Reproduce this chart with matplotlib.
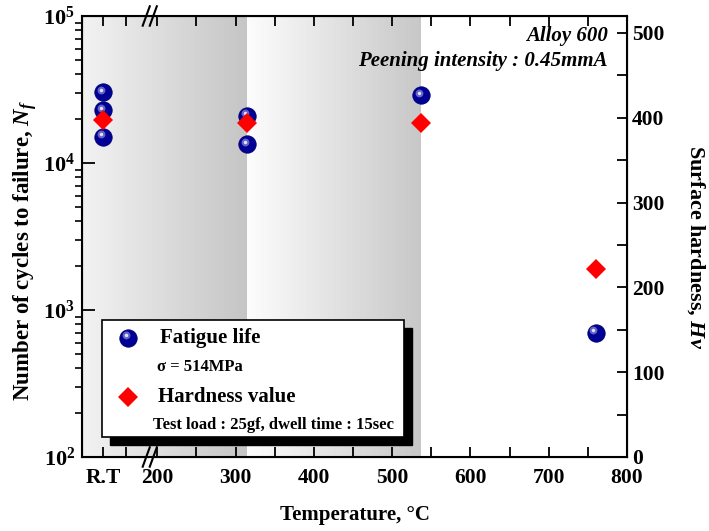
import numpy as np
import matplotlib
matplotlib.use("Agg")
import matplotlib.pyplot as plt
import matplotlib.transforms as mtrans
from matplotlib.patches import Rectangle
from matplotlib.ticker import LogLocator, NullFormatter, MultipleLocator

plt.rcParams['font.family'] = ['Liberation Serif', 'DejaVu Serif']
plt.rcParams['font.weight'] = 'bold'
plt.rcParams['axes.labelweight'] = 'bold'
plt.rcParams['mathtext.fontset'] = 'custom'
plt.rcParams['mathtext.rm'] = 'Liberation Serif:bold'
plt.rcParams['mathtext.it'] = 'Liberation Serif:italic:bold'
plt.rcParams['mathtext.bf'] = 'Liberation Serif:bold'

# data (R.T plotted at x = 131 on the broken axis)
RT_X = 131
fat_temp = [RT_X, RT_X, RT_X, 315, 315, 537, 760]
fat_life = [30300, 22900, 15100, 20900, 13400, 29000, 700]
hard_temp = [RT_X, 315, 537, 760]
hard_val = [397, 394, 394, 222]

xticks = [RT_X, 160, 200, 250, 300, 350, 400, 450, 500, 550, 600, 650, 700, 750, 800]
xticklabels = ['R.T', '', '200', '', '300', '', '400', '', '500', '', '600', '', '700', '', '800']
shade_regions = [(104, 315, 0.95, 0.77), (315, 537, 0.99, 0.78)]

fig = plt.figure(figsize=(7.09, 5.31), dpi=100)
ax = fig.add_axes([0.1157, 0.1394, 0.7687, 0.8305])
ax.set_yscale('log')
ax.set_xlim(104, 800)
ax.set_ylim(1e2, 1e5)

# grey gradient shading
for x0, x1, g0, g1 in shade_regions:
    n = 80
    edges = np.linspace(x0, x1, n + 1)
    for k in range(n):
        g = g0 + (g1 - g0) * (k + 0.5) / n
        ax.axvspan(edges[k], edges[k + 1], color=(g, g, g), lw=0, zorder=0, antialiased=False)


def sphere(axis, xs, ys, trans, size=12.5, z=5):
    axis.plot(xs, ys, 'o', ms=size, color='#000096', mec='#00006e', mew=0.6, zorder=z,
              ls='none', transform=trans)
    hl = mtrans.offset_copy(trans, fig=fig, x=-2.5, y=2.5, units='dots')
    axis.plot(xs, ys, 'o', ms=size * 0.45, color='#7070c8', mew=0, zorder=z + 0.1,
              transform=hl, alpha=0.9, ls='none')
    axis.plot(xs, ys, 'o', ms=size * 0.2, color='#e0e0ff', mew=0, zorder=z + 0.2,
              transform=hl, ls='none')


sphere(ax, fat_temp, fat_life, ax.transData)

ax.set_xticks(xticks)
ax.set_xticklabels(xticklabels, fontsize=15.5)
ax.yaxis.set_minor_locator(LogLocator(base=10, subs=np.arange(2, 10), numticks=20))
ax.yaxis.set_minor_formatter(NullFormatter())
ax.set_yticks([1e2, 1e3, 1e4, 1e5])
ax.set_yticklabels([r'$\mathbf{10^{%d}}$' % k for k in [2, 3, 4, 5]], fontsize=16)
ax.tick_params(axis='both', direction='in', width=1.3)
ax.tick_params(axis='x', which='major', length=7, top=True, pad=8)
ax.tick_params(axis='y', which='major', length=9, pad=5)
ax.tick_params(axis='y', which='minor', length=5, width=1.2)
for s in ax.spines.values():
    s.set_linewidth(1.5)

ax.set_xlabel('Temperature, °C', fontsize=15, labelpad=12)
ax.set_ylabel('Number of cycles to failure, $N_f$', fontsize=16.5)
ax.yaxis.set_label_coords(-0.1046, 0.469)
ax.yaxis.label.set_verticalalignment('center')

ax2 = ax.twinx()
ax2.set_ylim(0, 520)
ax2.yaxis.set_minor_locator(MultipleLocator(50))
ax2.set_yticks([0, 100, 200, 300, 400, 500])
ax2.tick_params(axis='y', which='both', direction='in', width=1.3, labelsize=15.5, length=7)
ax2.plot(hard_temp, hard_val, 'D', ms=10.5, color='#ff0000', mew=0, zorder=8)
ax2.set_ylabel('Surface hardness, $Hv$', fontsize=16, rotation=270)
ax2.yaxis.set_label_coords(1.126, 0.476)
ax2.yaxis.label.set_verticalalignment('center')

# axis break marks
bt = mtrans.blended_transform_factory(ax.transData, ax.transAxes)
for yb in (0.0, 1.0):
    for xb in (186, 195):
        ax.plot([xb - 4.5, xb + 4.5], [yb - 0.022, yb + 0.022], color='black', lw=1.5,
                transform=bt, clip_on=False, zorder=10)

ax.text(0.965, 0.955, 'Alloy 600', transform=ax.transAxes, ha='right', va='center',
        fontsize=15, style='italic')
ax.text(0.965, 0.898, 'Peening intensity : 0.45mmA', transform=ax.transAxes, ha='right',
        va='center', fontsize=15, style='italic')

# legend box with shadow
lx0, ly0, lw_, lh_ = 0.036, 0.046, 0.555, 0.265
ax.add_patch(Rectangle((lx0 + 0.0147, ly0 - 0.018), lw_, lh_, transform=ax.transAxes,
                       facecolor='black', edgecolor='black', zorder=11))
ax.add_patch(Rectangle((lx0, ly0), lw_, lh_, transform=ax.transAxes,
                       facecolor='white', edgecolor='black', lw=1.2, zorder=12))
sphere(ax, [0.0844], [0.27], ax.transAxes, z=13)
ax.plot([0.085], [0.1367], 'D', ms=10.5, color='#ff0000', mew=0, transform=ax.transAxes, zorder=13)
ax.text(0.143, 0.27, 'Fatigue life', transform=ax.transAxes, va='center', fontsize=15, zorder=14)
ax.text(0.137, 0.2048, 'σ = 514MPa', transform=ax.transAxes, va='center', fontsize=12, zorder=14)
ax.text(0.139, 0.1367, 'Hardness value', transform=ax.transAxes, va='center', fontsize=15, zorder=14)
ax.text(0.131, 0.0726, 'Test load : 25gf, dwell time : 15sec', transform=ax.transAxes,
        va='center', fontsize=12, zorder=14)

fig.savefig('out.png', dpi=100)
